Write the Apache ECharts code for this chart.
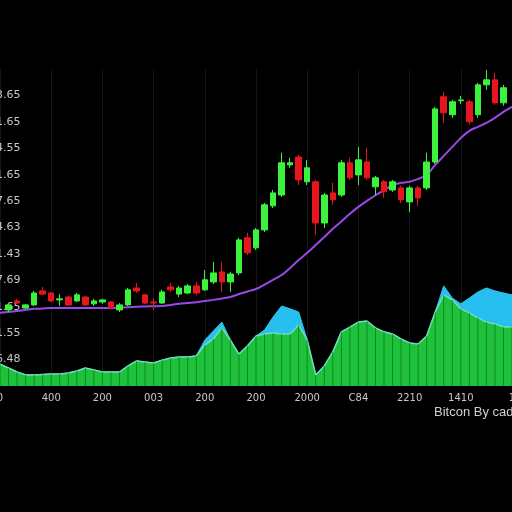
<!DOCTYPE html>
<html>
<head>
<meta charset="utf-8">
<script src="https://cdn.jsdelivr.net/npm/echarts@6/dist/echarts.min.js"></script>
<style>html,body{margin:0;padding:0;background:#000;}#c{width:512px;height:512px;}</style>
</head>
<body>
<div id="c"></div>
<script>
// Tick labels
var yTickLabels = ["", "6.48", "1.55", "1.65", "7.69", "1.43", "4.63", "7.65", "1.65", "4.55", "1.65", "3.65", ""];
var xTickLabels = ["0", "400", "200", "003", "200", "200", "2000", "C84", "2210", "1410", "1"];
var caption = "Bitcon By cad";

// Categories (61 periods)
var periods = [];
for (var k = 0; k <= 60; k++) periods.push(String(k));

// Candles: [open, close, low, high]
var candles = [
  "-",
  [2.88, 3.07, 2.80, 3.14],
  [3.22, 3.14, 3.11, 3.30],
  [2.95, 3.07, 2.92, 3.11],
  [3.07, 3.52, 3.03, 3.60],
  [3.60, 3.48, 3.45, 3.75],
  [3.52, 3.22, 3.18, 3.56],
  [3.26, 3.30, 3.03, 3.48],
  [3.37, 3.07, 3.03, 3.41],
  [3.22, 3.45, 3.18, 3.52],
  [3.37, 3.07, 3.03, 3.41],
  [3.11, 3.22, 3.03, 3.30],
  [3.18, 3.26, 3.11, 3.30],
  [3.18, 2.95, 2.92, 3.22],
  [2.88, 3.07, 2.80, 3.14],
  [3.07, 3.64, 3.03, 3.71],
  [3.71, 3.60, 3.52, 3.90],
  [3.45, 3.14, 3.11, 3.48],
  [3.18, 3.14, 2.88, 3.33],
  [3.14, 3.56, 3.11, 3.64],
  [3.75, 3.64, 3.56, 3.90],
  [3.48, 3.71, 3.37, 3.79],
  [3.52, 3.79, 3.48, 3.86],
  [3.79, 3.52, 3.45, 3.94],
  [3.64, 4.02, 3.60, 4.39],
  [3.94, 4.28, 3.86, 4.70],
  [4.32, 3.94, 3.56, 4.70],
  [3.94, 4.24, 3.56, 4.32],
  [4.28, 5.53, 4.20, 5.61],
  [5.61, 5.04, 4.96, 5.80],
  [5.23, 5.91, 5.15, 5.98],
  [5.91, 6.86, 5.83, 6.93],
  [6.82, 7.31, 6.74, 7.42],
  [7.23, 8.45, 7.16, 8.83],
  [8.37, 8.45, 8.26, 8.64],
  [8.67, 7.80, 7.61, 8.75],
  [7.73, 8.26, 7.61, 8.56],
  [7.73, 6.17, 5.72, 7.80],
  [6.17, 7.23, 5.98, 7.31],
  [7.31, 7.05, 6.86, 7.69],
  [7.23, 8.45, 7.16, 8.56],
  [8.45, 7.88, 7.80, 8.64],
  [7.99, 8.56, 7.61, 9.05],
  [8.48, 7.88, 7.80, 9.02],
  [7.54, 7.88, 7.23, 7.95],
  [7.73, 7.35, 7.12, 7.80],
  [7.42, 7.73, 7.35, 7.80],
  [7.50, 7.05, 6.93, 7.58],
  [6.97, 7.50, 6.59, 7.58],
  [7.50, 7.12, 6.82, 7.58],
  [7.50, 8.48, 7.42, 8.83],
  [8.48, 10.49, 8.41, 10.57],
  [10.95, 10.34, 9.96, 11.14],
  [10.27, 10.76, 10.15, 10.83],
  [10.80, 10.83, 10.68, 10.98],
  [10.76, 10.00, 9.89, 10.83],
  [10.27, 11.40, 10.15, 11.48],
  [11.40, 11.59, 11.21, 11.97],
  [11.59, 10.72, 10.64, 11.86],
  [10.72, 11.29, 10.61, 11.40],
  "-"
];

// Moving average line
var movingAvg = [
  2.77, 2.80, 2.84, 2.88, 2.92, 2.93, 2.95, 2.95, 2.95, 2.95,
  2.95, 2.95, 2.95, 2.95, 2.97, 2.98, 3.00, 3.01, 3.02, 3.03,
  3.07, 3.11, 3.14, 3.17, 3.22, 3.26, 3.31, 3.37, 3.48, 3.58,
  3.67, 3.84, 4.02, 4.20, 4.47, 4.77, 5.04, 5.34, 5.64, 5.95,
  6.23, 6.52, 6.78, 7.01, 7.22, 7.41, 7.61, 7.69, 7.73, 7.84,
  7.99, 8.37, 8.71, 9.05, 9.39, 9.66, 9.81, 9.96, 10.15, 10.38,
  10.57
];

// Volume (green) and secondary volume (cyan)
var volumeGreen = [
  0.83, 0.68, 0.53, 0.42, 0.42, 0.44, 0.45, 0.45, 0.49, 0.57,
  0.68, 0.61, 0.53, 0.53, 0.53, 0.76, 0.95, 0.91, 0.87, 0.98,
  1.06, 1.10, 1.10, 1.14, 1.55, 1.78, 2.20, 1.74, 1.21, 1.52,
  1.89, 1.97, 2.01, 1.97, 1.97, 2.31, 1.74, 0.42, 0.76, 1.29,
  2.05, 2.23, 2.42, 2.46, 2.20, 2.05, 1.97, 1.78, 1.63, 1.59,
  1.89, 2.80, 3.45, 3.26, 2.92, 2.77, 2.58, 2.42, 2.35, 2.23,
  2.23
];
var volumeCyan = [
  0.83, 0.68, 0.53, 0.42, 0.42, 0.44, 0.45, 0.45, 0.49, 0.57,
  0.68, 0.61, 0.53, 0.53, 0.53, 0.76, 0.95, 0.91, 0.87, 0.98,
  1.06, 1.10, 1.10, 1.14, 1.74, 2.08, 2.42, 1.74, 1.21, 1.52,
  1.89, 2.12, 2.61, 3.03, 2.92, 2.80, 1.74, 0.42, 0.76, 1.29,
  2.05, 2.23, 2.42, 2.46, 2.20, 2.05, 1.97, 1.78, 1.63, 1.59,
  1.89, 2.80, 3.79, 3.33, 3.11, 3.33, 3.56, 3.71, 3.60, 3.52,
  3.45
];

var chart = echarts.init(document.getElementById('c'), null, {renderer: 'canvas'});
chart.setOption({
  animation: false,
  backgroundColor: '#000000',
  grid: {left: 0, right: 0, top: 69, bottom: 126, containLabel: false, outerBoundsMode: 'none'},
  xAxis: {
    type: 'category',
    data: periods,
    boundaryGap: false,
    axisLine: {show: false},
    axisTick: {show: false},
    axisLabel: {
      interval: 5,
      margin: 7,
      color: '#c8c8c8',
      fontSize: 10,
      fontFamily: 'DejaVu Sans',
      formatter: function (v, idx) { return xTickLabels[idx / 6] || ''; }
    },
    splitLine: {show: true, interval: 5, lineStyle: {color: '#151515', width: 1}}
  },
  yAxis: {
    type: 'value',
    min: 0, max: 12, interval: 1,
    axisLine: {show: false},
    axisTick: {show: false},
    axisLabel: {
      align: 'left',
      margin: 4,
      color: '#c8c8c8',
      fontSize: 11,
      fontFamily: 'DejaVu Sans',
      formatter: function (v) { return yTickLabels[Math.round(v)] || ''; }
    },
    splitLine: {show: false}
  },
  graphic: [{
    type: 'text', left: 434, top: 406,
    style: {text: caption, fill: '#d0d0d0', font: '13px "Liberation Sans", Arial, sans-serif'}
  }],
  series: [
    {
      type: 'line', data: volumeCyan, symbol: 'none', z: 1,
      lineStyle: {color: '#2cc6f0', width: 1},
      areaStyle: {color: '#27bff0', opacity: 1}
    },
    {
      type: 'line', data: volumeGreen, symbol: 'none', z: 2,
      lineStyle: {color: '#70dcbc', width: 1.5},
      areaStyle: {color: '#1ec23a', opacity: 1}
    },
    {
      type: 'bar', data: volumeGreen, barWidth: 1, z: 3,
      itemStyle: {color: 'rgba(0,90,25,0.55)'}
    },
    {
      type: 'line', data: movingAvg, symbol: 'none', z: 4, smooth: 0.3,
      lineStyle: {color: '#9a48e8', width: 2}
    },
    {
      type: 'candlestick', data: candles, barWidth: 6, z: 5,
      itemStyle: {
        color: '#3cf23c', color0: '#e8161c',
        borderColor: '#3cf23c', borderColor0: '#e8161c', borderWidth: 1
      }
    }
  ]
});
</script>
</body>
</html>
